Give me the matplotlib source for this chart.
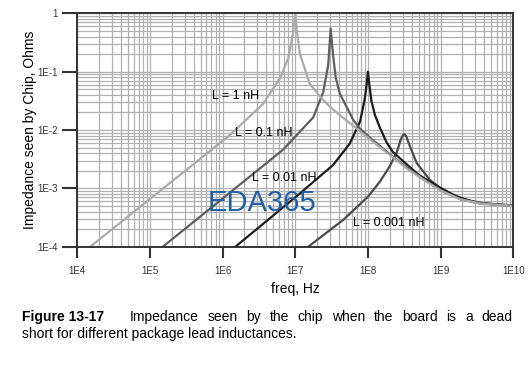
import matplotlib
matplotlib.use('Agg')
import matplotlib.pyplot as plt
from matplotlib.ticker import LogLocator, FixedLocator, NullFormatter

plt.rcParams['font.family'] = ['Liberation Sans', 'DejaVu Sans']

# Values (freq in Hz, impedance in Ohms)
f_1nH = [1.4e4, 1.26e6, 3.6e6, 6.2e6, 8.0e6, 9.3e6, 1.0e7, 1.05e7, 1.16e7, 1.3e7, 1.58e7,
         2.3e7, 3.0e7, 4.1e7, 7.8e7, 1.17e8, 2.2e8, 3.4e8, 6.4e8, 1.0e9, 1.87e9, 3.5e9, 1.0e10]
z_1nH = [9.3e-5, 0.0082, 0.028, 0.078, 0.17, 0.45, 1.0, 0.5, 0.2, 0.13, 0.062,
         0.035, 0.025, 0.018, 0.0095, 0.0063, 0.0034, 0.0022, 0.0013, 9.2e-4, 6.5e-4, 5.5e-4, 5.0e-4]

f_01nH = [1.4e5, 6.8e6, 1.77e7, 2.43e7, 2.84e7, 3.07e7, 3.3e7, 3.6e7, 4.1e7, 6.3e7, 7.8e7,
          1.17e8, 2.2e8, 3.4e8, 6.4e8, 1.0e9, 1.87e9, 3.5e9, 1.0e10]
z_01nH = [9.3e-5, 0.0046, 0.0165, 0.045, 0.13, 0.55, 0.2, 0.08, 0.042, 0.0148, 0.0105,
          0.0067, 0.0035, 0.0023, 0.00132, 9.3e-4, 6.5e-4, 5.5e-4, 5.0e-4]

f_001nH = [1.4e6, 1.16e7, 3.3e7, 5.6e7, 7.8e7, 9.0e7, 9.6e7, 1.0e8, 1.05e8, 1.12e8, 1.25e8,
           1.46e8, 1.8e8, 2.2e8, 3.4e8, 5.0e8, 8.8e8, 1.5e9, 3.0e9, 1.0e10]
z_001nH = [9.3e-5, 8.2e-4, 0.0025, 0.0058, 0.014, 0.033, 0.06, 0.1, 0.058, 0.031, 0.018,
           0.011, 0.0062, 0.0042, 0.0026, 0.0017, 0.00112, 7.6e-4, 5.7e-4, 5.05e-4]

f_0001nH = [1.4e7, 4.6e7, 1.0e8, 1.46e8, 2.0e8, 2.5e8, 2.8e8, 3.0e8, 3.16e8, 3.35e8, 3.6e8,
            3.8e8, 4.7e8, 7.1e8, 1.0e9, 2.0e9, 4.0e9, 1.0e10]
z_0001nH = [9.3e-5, 2.9e-4, 7.2e-4, 0.0013, 0.0024, 0.0042, 0.0066, 0.0080, 0.0085, 0.0079, 0.0062,
            0.0052, 0.0027, 0.0014, 0.001, 6.6e-4, 5.5e-4, 5.1e-4]

x_ticks = [1e4, 1e5, 1e6, 1e7, 1e8, 1e9, 1e10]
x_labels = ['1E4', '1E5', '1E6', '1E7', '1E8', '1E9', '1E10']
y_ticks = [1e-4, 1e-3, 1e-2, 1e-1, 1]
y_labels = ['1E-4', '1E-3', '1E-2', '1E-1', '1']

caption_bold = 'Figure 13-17'
caption_line1 = 'Impedance seen by the chip when the board is a dead'
caption_line2 = 'short for different package lead inductances.'

fig = plt.figure(figsize=(5.3, 3.72), dpi=100)
ax = fig.add_axes([0.1458, 0.3368, 0.8226, 0.6274])

# curves, light gray one drawn last so it sits on top
ax.plot(f_0001nH, z_0001nH, color='#4a4a4a', lw=1.6)
ax.plot(f_001nH, z_001nH, color='#1c1c1c', lw=1.6)
ax.plot(f_01nH, z_01nH, color='#5e5e5e', lw=1.6)
ax.plot(f_1nH, z_1nH, color='#ababab', lw=1.6)

ax.set_xscale('log')
ax.set_yscale('log')
ax.set_xlim(1e4, 1e10)
ax.set_ylim(1e-4, 1)

ax.xaxis.set_major_locator(FixedLocator(x_ticks))
ax.yaxis.set_major_locator(FixedLocator(y_ticks))
ax.set_xticklabels(x_labels)
ax.set_yticklabels(y_labels)
ax.xaxis.set_minor_locator(LogLocator(base=10, subs=range(2, 10), numticks=20))
ax.yaxis.set_minor_locator(LogLocator(base=10, subs=range(2, 10), numticks=20))
ax.xaxis.set_minor_formatter(NullFormatter())
ax.yaxis.set_minor_formatter(NullFormatter())

ax.grid(True, which='both', color='#b0b0b0', lw=0.9)
ax.set_axisbelow(True)

ax.tick_params(axis='x', which='major', direction='out', length=8, width=1.5, color='#333333',
               labelsize=7, labelcolor='#333333', pad=6)
ax.tick_params(axis='y', which='major', direction='out', length=11, width=1.5, color='#333333',
               labelsize=7, labelcolor='#333333', pad=3)
ax.tick_params(which='minor', length=0)
for side in ['left', 'bottom', 'top', 'right']:
    ax.spines[side].set_color('#333333')
    ax.spines[side].set_linewidth(1.4)

ax.set_xlabel('freq, Hz', fontsize=10, labelpad=4)
ax.set_ylabel('Impedance seen by Chip, Ohms', fontsize=10, labelpad=0)

# curve labels
ax.text(7.1e5, 0.038, 'L = 1 nH', fontsize=9, ha='left', va='center')
ax.text(1.48e6, 0.0089, 'L = 0.1 nH', fontsize=9, ha='left', va='center')
ax.text(2.5e6, 0.0015, 'L = 0.01 nH', fontsize=9, ha='left', va='center')
ax.text(6.2e7, 2.57e-4, 'L = 0.001 nH', fontsize=9, ha='left', va='center')

# watermark
fig.text(0.494, 0.455, 'EDA365', fontsize=21, color='#1f5fa8', ha='center', va='center')

# caption, first line justified to the right edge like the book
y1 = 1 - 317.3 / 372
y2 = 1 - 334.3 / 372
fig.text(22 / 530, y1, caption_bold, fontsize=10, fontweight='bold', va='center')
renderer = fig.canvas.get_renderer()
words = caption_line1.split()
texts = [fig.text(0, y1, w, fontsize=10, va='center') for w in words]
widths = [t.get_window_extent(renderer).width for t in texts]
left_px, right_px = 130.0, 512.5
gap = (right_px - left_px - sum(widths)) / (len(words) - 1)
x = left_px
for t, w in zip(texts, widths):
    t.set_x(x / 530)
    x += w + gap
fig.text(22 / 530, y2, caption_line2, fontsize=10, va='center')

fig.savefig('out.png', dpi=100)
